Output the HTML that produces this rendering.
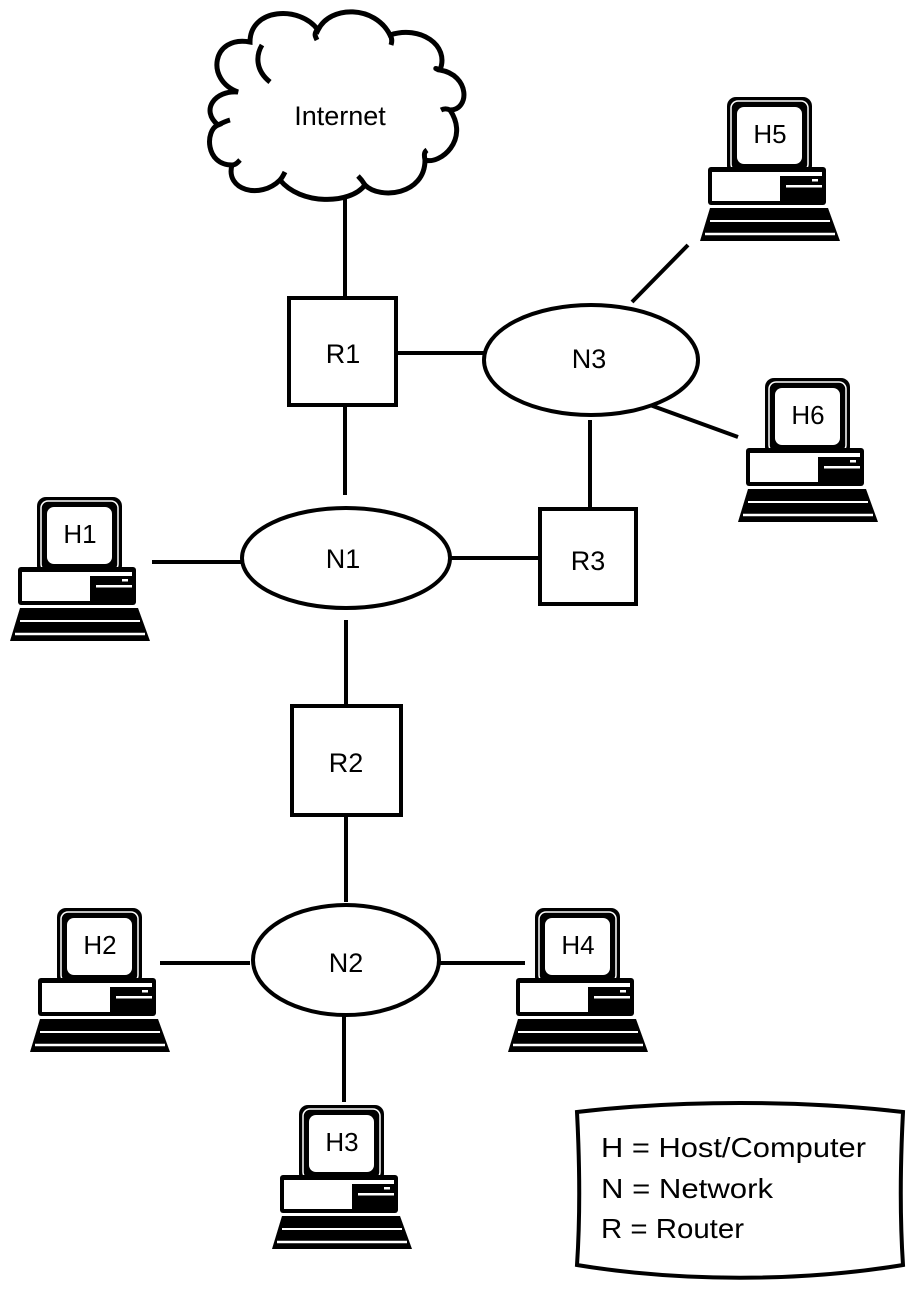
<!DOCTYPE html>
<html><head><meta charset="utf-8"><style>body{margin:0;background:#fff}svg{display:block}text{font-family:"Liberation Sans",sans-serif;fill:#000}</style></head>
<body>
<svg width="914" height="1298" viewBox="0 0 914 1298" xmlns="http://www.w3.org/2000/svg">
<defs>
<g id="pc">
  <rect x="27" y="0" width="85" height="78" rx="9" fill="#000"/>
  <rect x="31" y="4" width="77" height="70" rx="7" fill="none" stroke="#fff" stroke-width="1.5"/>
  <rect x="37" y="10" width="65" height="57" rx="7" fill="#fff"/>
  <rect x="8" y="70" width="118" height="38" rx="3" fill="#000"/>
  <rect x="12" y="75" width="68" height="29" fill="#fff"/>
  <rect x="80" y="75" width="42" height="4" fill="#fff"/>
  <rect x="86" y="88" width="36" height="2.5" fill="#fff"/>
  <rect x="112" y="82" width="6" height="2.5" fill="#fff"/>
  <polygon points="10,111 128,111 140,144 0,144" fill="#000"/>
  <line x1="10" y1="124" x2="130" y2="124" stroke="#fff" stroke-width="2"/>
  <line x1="5" y1="137" x2="135" y2="137" stroke="#fff" stroke-width="2.5"/>
</g>
</defs>
<g stroke="#000" stroke-width="4" fill="none">
  <line x1="345" y1="195" x2="345" y2="298"/>
  <line x1="396" y1="353" x2="484" y2="353"/>
  <line x1="345" y1="405" x2="345" y2="495"/>
  <line x1="590" y1="420" x2="590" y2="509"/>
  <line x1="450" y1="558" x2="540" y2="558"/>
  <line x1="152" y1="562" x2="241" y2="562"/>
  <line x1="346" y1="620" x2="346" y2="706"/>
  <line x1="346" y1="815" x2="346" y2="902"/>
  <line x1="160" y1="963" x2="250" y2="963"/>
  <line x1="440" y1="963" x2="525" y2="963"/>
  <line x1="344" y1="1015" x2="344" y2="1102"/>
  <line x1="632" y1="302" x2="688" y2="245"/>
  <line x1="650" y1="405" x2="738" y2="437"/>
  <rect x="289" y="298" width="107" height="107" fill="#fff"/>
  <rect x="540" y="509" width="96" height="95" fill="#fff"/>
  <rect x="292" y="706" width="109" height="109" fill="#fff"/>
  <ellipse cx="591" cy="360" rx="107" ry="55" fill="#fff"/>
  <ellipse cx="346" cy="558" rx="104" ry="50" fill="#fff"/>
  <ellipse cx="346" cy="960" rx="93" ry="55" fill="#fff"/>
  <path d="M238,92 C205,80 212,35 250,42 C250,8 300,5 318,30 C330,5 375,5 390,35 C420,25 450,45 440,70 C470,75 470,110 450,110 C470,140 440,165 425,160 C425,195 380,200 365,185 C350,205 300,205 280,180 C260,200 225,190 232,165 C205,165 205,130 218,125 C200,110 215,90 238,92 Z" fill="#fff" stroke-width="5"/>
  <path d="M270,82 C255,70 256,55 262,45 M317,30 C314,34 315,36 317,40 M390,35 C392,38 392,42 391,45 M440,70 C436,68 433,68 440,70 M450,110 C446,108 443,109 441,110 M425,160 C424,155 424,152 427,150 M365,185 C362,180 360,178 358,176 M280,180 C282,178 283,176 285,172 M232,165 C236,165 238,162 240,160 M218,125 C222,123 226,121 230,120" stroke-width="5"/>
  <path d="M577,1112 C680,1100 800,1100 903,1112 C900,1170 900,1220 903,1265 C800,1282 680,1282 577,1265 C580,1220 580,1170 577,1112 Z" fill="#fff"/>
</g>
<g font-size="27" text-anchor="middle">
  <text x="340" y="125">Internet</text>
  <text x="343" y="363">R1</text>
  <text x="589" y="368">N3</text>
  <text x="343" y="568">N1</text>
  <text x="588" y="570">R3</text>
  <text x="346" y="772">R2</text>
  <text x="346" y="972">N2</text>
</g>
<g font-size="26" text-anchor="middle">
  <use href="#pc" x="10" y="497"/><text x="80" y="543">H1</text>
  <use href="#pc" x="700" y="97"/><text x="770" y="143">H5</text>
  <use href="#pc" x="738" y="378"/><text x="808" y="424">H6</text>
  <use href="#pc" x="30" y="908"/><text x="100" y="954">H2</text>
  <use href="#pc" x="508" y="908"/><text x="578" y="954">H4</text>
  <use href="#pc" x="272" y="1105"/><text x="342" y="1151">H3</text>
</g>
<g font-size="28">
  <text x="601" y="1157" textLength="265" lengthAdjust="spacingAndGlyphs">H = Host/Computer</text>
  <text x="601" y="1198" textLength="172" lengthAdjust="spacingAndGlyphs">N = Network</text>
  <text x="601" y="1238" textLength="143" lengthAdjust="spacingAndGlyphs">R = Router</text>
</g>
</svg>
</body></html>
